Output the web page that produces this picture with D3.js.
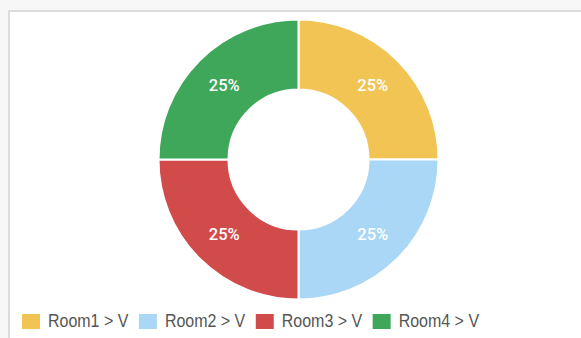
<!DOCTYPE html>
<html>
<head>
<meta charset="utf-8">
<script src="https://cdn.jsdelivr.net/npm/d3@7/dist/d3.min.js"></script>
<style>
  html, body { margin: 0; padding: 0; background: #f7f7f7; }
  #panel {
    position: absolute; left: 8px; top: 10px; width: 580px; height: 340px;
    background: #ffffff; border-left: 2px solid #dcdcdc; border-top: 2px solid #dcdcdc;
    box-sizing: border-box;
  }
  svg { position: absolute; left: 0; top: 0; }
</style>
</head>
<body>
<div id="panel"></div>
<svg id="chart" width="581" height="338"></svg>
<script>
// Room shares shown in the doughnut
const categories = ["Room1 > V", "Room2 > V", "Room3 > V", "Room4 > V"];
const values = [25, 25, 25, 25];
const colors = ["#f1c453", "#a9d7f5", "#d24b4b", "#3fa75a"];

const svg = d3.select("#chart");
const cx = 298.5, cy = 159.5, outerR = 140, innerR = 70;

const pie = d3.pie().sort(null).value(d => d.value);
const arcs = pie(categories.map((c, i) => ({ name: c, value: values[i], color: colors[i] })));
const arc = d3.arc().innerRadius(innerR).outerRadius(outerR);
const total = d3.sum(values);

const g = svg.append("g").attr("transform", `translate(${cx},${cy})`);

g.selectAll("path")
  .data(arcs)
  .join("path")
  .attr("d", arc)
  .attr("fill", d => d.data.color)
  .attr("stroke", "#ffffff")
  .attr("stroke-width", 2);

g.selectAll("text")
  .data(arcs)
  .join("text")
  .attr("transform", d => `translate(${arc.centroid(d)})`)
  .attr("text-anchor", "middle")
  .attr("dy", "0.35em")
  .attr("fill", "#ffffff")
  .style("font-family", "Roboto, 'Liberation Sans', Arial, sans-serif")
  .style("font-size", "16.5px")
  .style("font-weight", "500")
  .text(d => Math.round(d.data.value / total * 100) + "%");

// Legend row along the bottom; glyphs stretched slightly taller
const legend = svg.append("g").attr("transform", "translate(22,321)");
let x = 0;
categories.forEach((c, i) => {
  const item = legend.append("g").attr("transform", `translate(${x},0)`);
  item.append("rect")
    .attr("x", 0).attr("y", -7).attr("width", 18).attr("height", 15)
    .attr("fill", colors[i]);
  const t = item.append("text")
    .attr("transform", "translate(26,0) scale(1,1.1)")
    .attr("dy", "0.36em")
    .attr("fill", "#555555")
    .style("font-family", "'Liberation Sans', Arial, sans-serif")
    .style("font-size", "16px")
    .text(c);
  const w = t.node().getComputedTextLength();
  x += 26 + w + 10.5;
});
</script>
</body>
</html>
